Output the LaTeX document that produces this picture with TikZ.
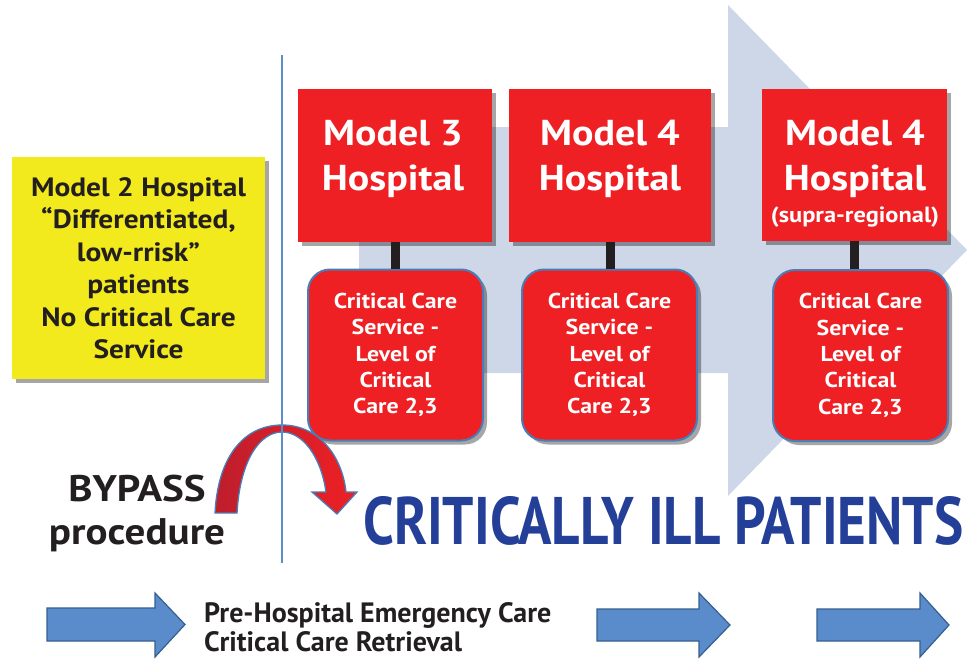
\documentclass[tikz,border=0pt]{standalone}
\usepackage{fontspec}
\setmainfont{PT Sans}[FakeStretch=1.11]
\newfontfamily\plainfont{PT Sans}
\usetikzlibrary{shadows}
\definecolor{hred}{HTML}{EE2024}
\definecolor{bbord}{HTML}{4A7DB5}
\definecolor{ybox}{HTML}{F2EA1C}
\definecolor{bgarrow}{HTML}{CDD7E7}
\definecolor{dblue}{HTML}{233F98}
\definecolor{arfill}{HTML}{5A8BCA}
\definecolor{arbord}{HTML}{35608F}
\definecolor{vline}{HTML}{5B8FCB}
\definecolor{conn}{HTML}{231F20}
\definecolor{darkred}{HTML}{BE1E2D}
\begin{document}
\begin{tikzpicture}[x=1pt,y=-1pt,
  shad/.style={drop shadow={shadow xshift=4pt,shadow yshift=-4pt,fill=black,opacity=0.35}},
  hosp/.style={shad,fill=hred,inner sep=0pt},
  hosptext/.style={text=white,inner sep=0pt,align=center,
    font=\bfseries\fontsize{36}{45}\selectfont},
  ccs/.style={shad,fill=hred,draw=bbord,line width=2pt,rounded corners=22pt,text=white,
    inner sep=0pt,align=center,minimum width=175pt,minimum height=171pt,
    font=\bfseries\fontsize{21.5}{26.3}\selectfont},
  yel/.style={shad,fill=ybox,inner sep=0pt,align=center,minimum width=253pt,minimum height=222pt,
    font=\bfseries\fontsize{26.5}{32.5}\selectfont,text=conn},
  link/.style={draw=conn,line width=9pt},
  barrow/.style={fill=arfill,draw=arbord,line width=1.2pt,line join=miter},
  bigtext/.style={font=\bfseries\fontsize{37}{43}\selectfont,align=center,text=conn}
]
\useasboundingbox (0,0) rectangle (968,658);
% background arrow
\fill[bgarrow] (359,127) -- (728,127) -- (728,5) -- (967,250) -- (728,496) -- (728,373) -- (359,373) -- cycle;
% hospital boxes
\node[hosp,minimum width=194pt,minimum height=153pt] (m3) at (395,165.5) {};
\node[hosp,minimum width=202pt,minimum height=153pt] (m4) at (610,165.5) {};
\node[hosp,minimum width=185pt,minimum height=152pt] (m4s) at (854.5,165) {};
\node[hosptext] (m3t) at (393,159) {Model 3\\Hospital};
\node[hosptext] (m4t) at (610,159) {Model 4\\Hospital};
\node[hosptext] (m4st) at (855,174) {Model 4\\Hospital\\[-13pt]{\fontsize{22}{24}\selectfont (supra-regional)}};
% critical care service boxes
\node[ccs] (c1) at (395.5,355) {Critical Care\\Service -\\Level of\\Critical\\Care 2,3};
\node[ccs] (c2) at (609.5,355) {Critical Care\\Service -\\Level of\\Critical\\Care 2,3};
\node[ccs] (c3) at (860.5,355.5) {Critical Care\\Service -\\Level of\\Critical\\Care 2,3};
% links
\draw[link] (m3.south) -- (m3.south |- c1.north);
\draw[link] (m4.south) -- (m4.south |- c2.north);
\draw[link] (m4s.south) -- (m4s.south |- c3.north);
% model 2
\node[yel] (m2) at (138.5,268) {Model 2 Hospital\\“Differentiated,\\low-rrisk”\\patients\\No Critical Care\\Service};
% bypass arrow
\path[left color=darkred,right color=hred,draw=bbord,line width=1.3pt]
  (215,513) .. controls (218,455) and (245,425) .. (282,425)
  .. controls (318,425) and (342,455) .. (346,492)
  -- (357,492) -- (337,514) -- (312,492) -- (326,492)
  .. controls (321,457) and (303,432) .. (282,432)
  .. controls (260,432) and (240,460) .. (237,513) -- cycle;
% vertical line
\coordinate (vtop) at (282,55);
\coordinate (vbot) at (282,563);
\draw[vline,line width=1.6pt] (vtop) -- (vbot);
% texts
\node[bigtext] (bp) at (137,513) {BYPASS\\procedure};
\node[anchor=south west,inner sep=0pt,text=dblue] (cip) at (363,546)
  {\resizebox{600pt}{48pt}{\bfseries CRITICALLY ILL PATIENTS}};
\node[anchor=west,inner sep=0pt,align=left,text=conn,font=\plainfont\bfseries\fontsize{28}{29}\selectfont] (pre) at (204,627)
  {Pre-Hospital Emergency Care\\Critical Care Retrieval};
% bottom arrows
\path[barrow] (47,608) -- (155,608) -- (155,593) -- (185,624.5) -- (155,657) -- (155,641) -- (47,641) -- cycle;
\path[barrow] (597,609) -- (699,609) -- (699,593) -- (730,625) -- (699,657) -- (699,641) -- (597,641) -- cycle;
\path[barrow] (817,609) -- (920,609) -- (920,593) -- (949,625) -- (920,657) -- (920,641) -- (817,641) -- cycle;
\end{tikzpicture}
\end{document}
